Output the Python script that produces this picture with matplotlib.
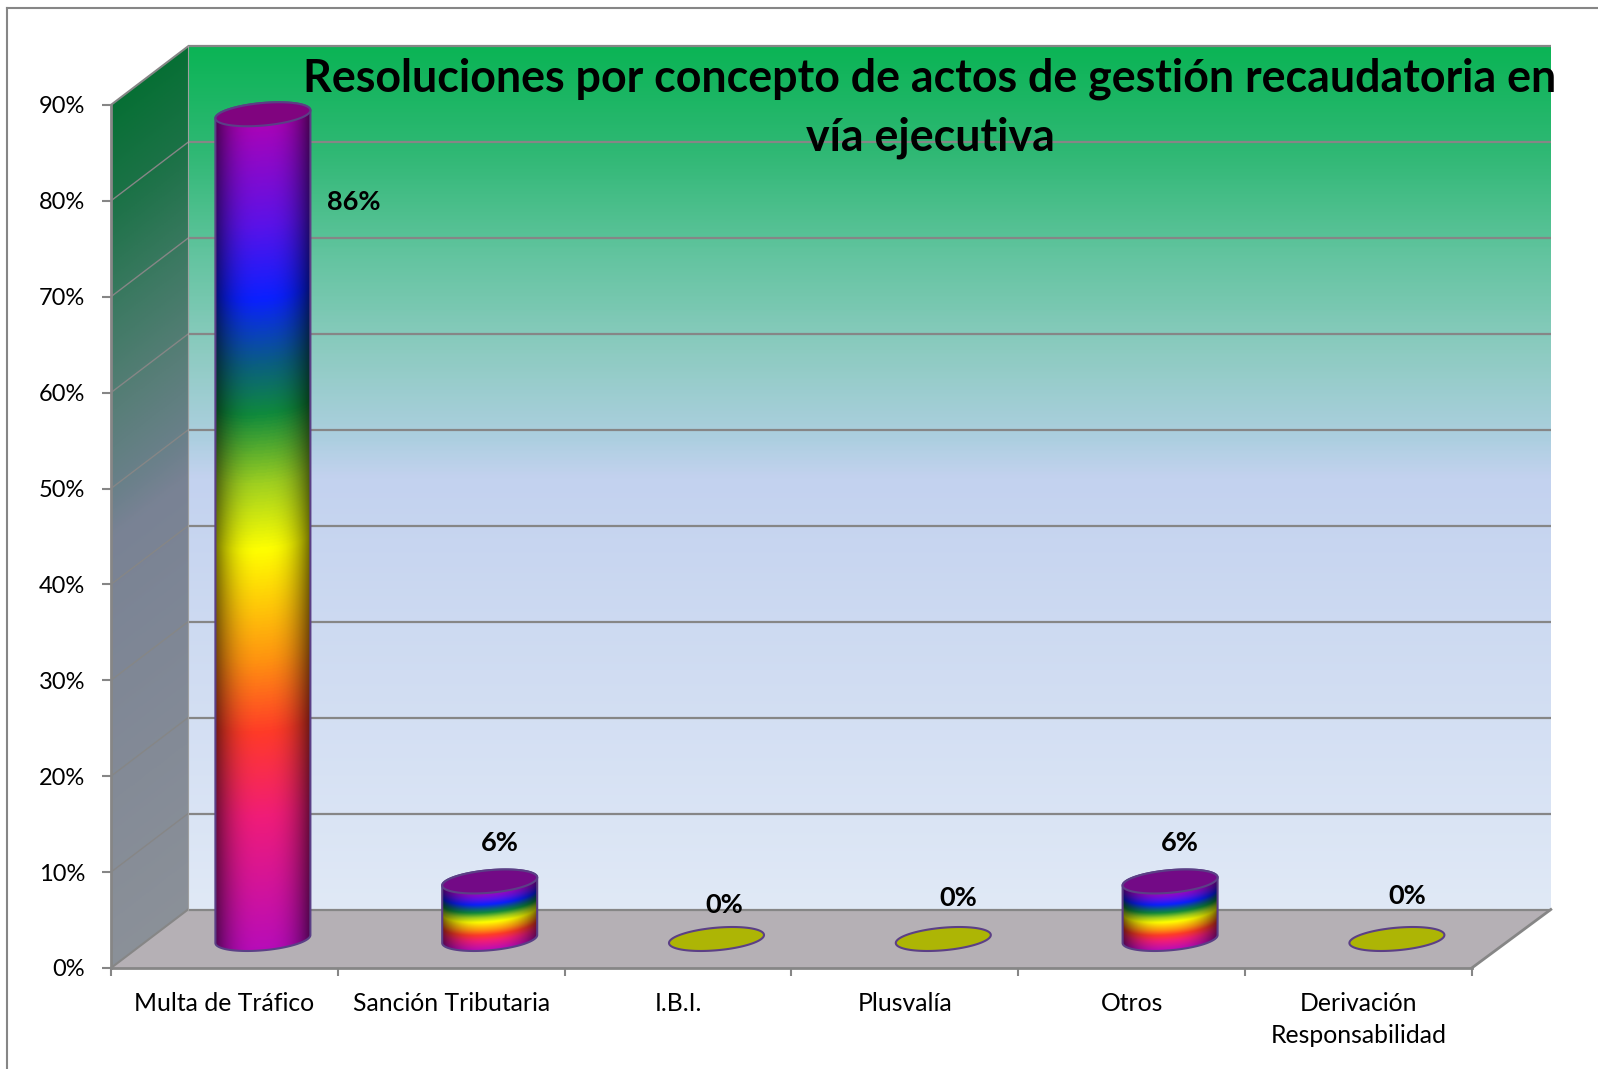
#!/usr/bin/env python
import numpy as np
import matplotlib
matplotlib.use('Agg')
import matplotlib.pyplot as plt
from matplotlib.colors import LinearSegmentedColormap
from matplotlib.patches import Polygon
from matplotlib.lines import Line2D

categories = ['Multa de Tráfico', 'Sanción Tributaria', 'I.B.I.', 'Plusvalía', 'Otros',
              'Derivación\nResponsabilidad']
values = [86, 6, 0, 0, 6, 0]
y_ticks = [0, 10, 20, 30, 40, 50, 60, 70, 80, 90]
title = 'Resoluciones por concepto de actos de gestión recaudatoria en\nvía ejecutiva'

# hand moved data labels in the original, offset in pixels from the bar top
label_dx = [91, 10, 8, 15, 10, 10]
label_dy = [-88, 38, 34, 41, 38, 43]

W, H = 1598, 1069
X0, Y0 = 111, 968        # pixel of the front axis origin
PX_CAT = 226.8           # pixels per category
PX_PCT = 9.59            # pixels per percent
DX = 77 / PX_CAT         # depth of the 3d box
DY = 58.5 / PX_PCT
YMAX = 90
NCAT = len(categories)
BACK_W = NCAT + 2 / PX_CAT   # back wall is a little wider than the front axis

GRID = '#868686'

wall_cmap = LinearSegmentedColormap.from_list('wall', [
    (0.00, '#e0e9f6'), (0.50, '#c3d2ef'), (0.545, '#adcfe0'), (0.65, '#8ccbc0'),
    (0.76, '#62c49f'), (0.88, '#2fb874'), (1.00, '#0bb455')])

rainbow = LinearSegmentedColormap.from_list('rainbow3d', [
    (0.00, '#b80cb8'), (0.16, '#f01c78'), (0.262, '#ff3a28'), (0.352, '#ff9410'),
    (0.485, '#ffff00'), (0.565, '#a0d020'), (0.65, '#0f8a3c'), (0.71, '#0a5f80'),
    (0.79, '#0a20ff'), (0.88, '#5a12e8'), (1.00, '#a804b8')])

fig = plt.figure(figsize=(W / 100, H / 100), dpi=100)
plt.rcParams['font.family'] = ['Lato', 'DejaVu Sans']
ax = fig.add_axes([0, 0, 1, 1])
ax.patch.set_visible(False)
ax.set_xlim(-X0 / PX_CAT, (W - X0) / PX_CAT)
ax.set_ylim((Y0 - H) / PX_PCT, Y0 / PX_PCT)


def clipped_image(rgb, extent, clip_xy, z):
    im = ax.imshow(rgb, extent=extent, origin='lower', aspect='auto', zorder=z,
                   interpolation='bilinear')
    clip = Polygon(clip_xy, closed=True, transform=ax.transData, facecolor='none', edgecolor='none')
    ax.add_patch(clip)
    im.set_clip_path(clip)
    return im


# back wall
t = np.linspace(0, 1, 500)[:, None]
clipped_image(wall_cmap(t)[:, :, :3], (DX, DX + BACK_W, DY, DY + YMAX),
              [(DX, DY), (DX + BACK_W, DY), (DX + BACK_W, DY + YMAX), (DX, DY + YMAX)], 1)

# side wall, same gradient sheared and darker
xx, yy = np.meshgrid(np.linspace(0, DX, 80), np.linspace(0, DY + YMAX, 600))
side = wall_cmap(np.clip((yy - xx / DX * DY) / YMAX, 0, 1))[:, :, :3] * 0.62
clipped_image(side, (0, DX, 0, DY + YMAX),
              [(0, 0), (DX, DY), (DX, DY + YMAX), (0, YMAX)], 1)

# floor
ax.add_patch(Polygon([(0, 0), (NCAT, 0), (DX + BACK_W, DY), (DX, DY)], closed=True,
                     facecolor='#b5b0b5', edgecolor='none', zorder=1))

# grid lines
for v in y_ticks:
    ax.plot([DX, DX + BACK_W], [v + DY, v + DY], color=GRID, lw=1.6, zorder=2, solid_capstyle='butt')
    ax.plot([0, DX], [v, v + DY], color=GRID, lw=1.0 if v not in (0, YMAX) else 1.5, zorder=2)
ax.plot([DX, DX], [DY, DY + YMAX], color='#a0a0a0', lw=0.8, zorder=2)
ax.plot([NCAT, DX + BACK_W], [0, DY], color=GRID, lw=2.0, zorder=2)

# cylinders
A = 47.5 / PX_CAT
B = 11.3 / PX_PCT
S = 4.0 / PX_PCT
EDGE = '#5b3f86'
tt = np.linspace(0, 2 * np.pi, 200)


def ellipse(xc, yc):
    return np.column_stack([xc + A * np.cos(tt), yc + S * np.cos(tt) + B * np.sin(tt)])


for i, v in enumerate(values):
    xc = i + 0.5 + DX / 2
    y0 = 29 / PX_PCT
    y1 = y0 + v
    if v > 0:
        u = np.linspace(-1, 1, 160)
        rows = np.linspace(y0 - B - S, y1 + B + S, max(300, int(v * 12)))
        uu, rr = np.meshgrid(u, rows)
        low = y0 + S * uu - B * np.sqrt(1 - uu ** 2)
        frac = np.clip((rr - low) / v, 0, 1)
        rgb = rainbow(frac)[:, :, :3]
        shade = 1 - 0.56 * np.abs(uu) ** 2.6
        rgb = rgb * shade[:, :, None]
        tb = np.linspace(np.pi, 2 * np.pi, 80)
        tb2 = np.linspace(0, np.pi, 80)
        body = np.vstack([
            np.column_stack([xc + A * np.cos(tb), y0 + S * np.cos(tb) + B * np.sin(tb)]),
            np.column_stack([xc + A * np.cos(tb2), y1 + S * np.cos(tb2) + B * np.sin(tb2)])])
        clipped_image(rgb, (xc - A, xc + A, rows[0], rows[-1]), body, 3)
        ax.add_patch(Polygon(body, closed=True, facecolor='none', edgecolor=EDGE, lw=1.5, zorder=4))
        top_color = '#80047f' if v > 50 else '#730a86'
    else:
        top_color = '#adb505'
    ax.add_patch(Polygon(ellipse(xc, y1), closed=True, facecolor=top_color, edgecolor=EDGE,
                         lw=1.5, zorder=5))
    ax.annotate('%d%%' % v, xy=(xc, y1), xytext=(label_dx[i], label_dy[i]),
                textcoords='offset pixels', ha='center', va='center', fontsize=19.5,
                fontweight='bold', color='black', zorder=6)

# axes
ax.set_xlim(-X0 / PX_CAT, (W - X0) / PX_CAT)
ax.set_ylim((Y0 - H) / PX_PCT, Y0 / PX_PCT)
for s in ['top', 'right']:
    ax.spines[s].set_visible(False)
ax.spines['left'].set_position(('data', 0))
ax.spines['bottom'].set_position(('data', 0))
ax.spines['left'].set_bounds(0, YMAX)
ax.spines['bottom'].set_bounds(0, NCAT)
for s in ['left', 'bottom']:
    ax.spines[s].set_color(GRID)
    ax.spines[s].set_linewidth(2.0)
    ax.spines[s].set_zorder(7)

ax.set_yticks(y_ticks)
ax.set_yticklabels(['%d%%' % v for v in y_ticks])
ax.set_xticks(range(NCAT + 1))
ax.set_xticklabels([])
ax.set_xticks(np.arange(NCAT) + 0.5, minor=True)
ax.set_xticklabels(categories, minor=True, linespacing=1.5, va='top')
ax.tick_params(axis='y', length=6.5, width=1.5, color=GRID, pad=12, labelsize=17, labelcolor='black')
ax.tick_params(axis='x', which='major', length=5.5, width=1.5, color=GRID)
ax.tick_params(axis='x', which='minor', length=0, pad=17, labelsize=17.8, labelcolor='black')

fig.text(930 / W, 1 - 108 / H, title, ha='center', va='center', fontsize=32.2, fontweight='bold',
         color='black', linespacing=1.48, zorder=10)

# outer frame of the embedded picture
fig.add_artist(Line2D([7 / W, 7 / W], [0, 1 - 8 / H], color=GRID, lw=1.5))
fig.add_artist(Line2D([7 / W, 1], [1 - 8 / H, 1 - 8 / H], color=GRID, lw=1.5))

fig.savefig('out.png', dpi=100)
